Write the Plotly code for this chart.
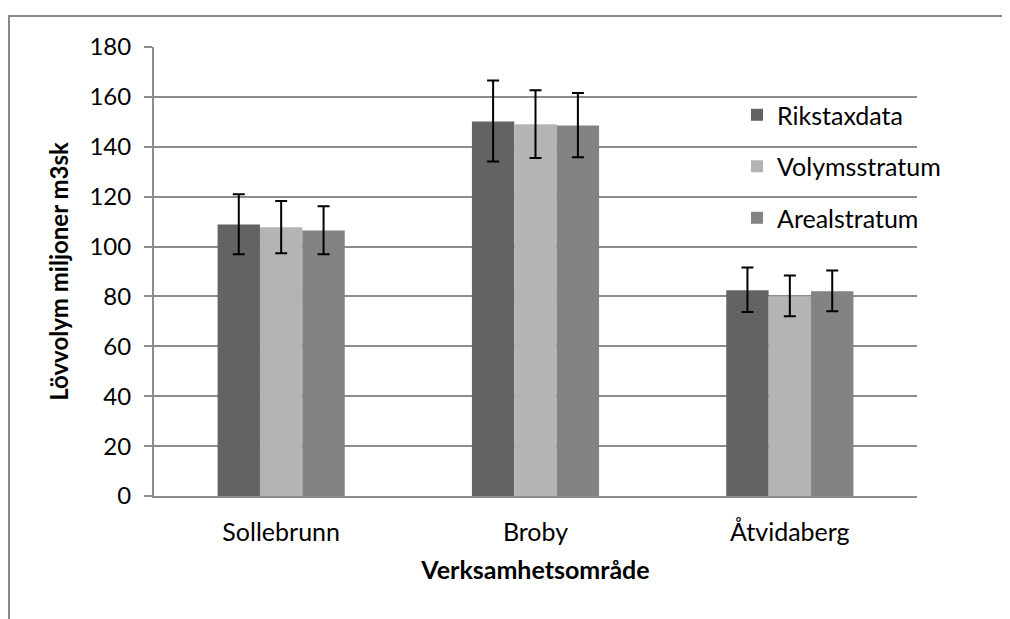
import plotly.graph_objects as go

categories = ["Sollebrunn", "Broby", "Åtvidaberg"]
series_names = ["Rikstaxdata", "Volymsstratum", "Arealstratum"]

rikstax = [108.8, 150.1, 82.5]
rikstax_plus = [12.2, 16.5, 9.1]
rikstax_minus = [11.9, 16.0, 8.7]

volym = [107.7, 149.0, 80.1]
volym_plus = [10.6, 13.7, 8.3]
volym_minus = [10.4, 13.5, 8.0]

areal = [106.4, 148.5, 82.1]
areal_plus = [9.8, 13.1, 8.3]
areal_minus = [9.5, 12.7, 8.0]

y_ticks = [0, 20, 40, 60, 80, 100, 120, 140, 160, 180]

colors = ["#636363", "#b4b4b4", "#838383"]
FONT = "Lato"

fig = go.Figure()
for name, vals, ep, em, col in zip(
    series_names,
    [rikstax, volym, areal],
    [rikstax_plus, volym_plus, areal_plus],
    [rikstax_minus, volym_minus, areal_minus],
    colors,
):
    fig.add_trace(go.Bar(
        name=name, x=categories, y=vals,
        marker=dict(color=col, line=dict(width=0)),
        legendgroup=name,
        error_y=dict(type="data", symmetric=False, array=ep, arrayminus=em,
                     color="black", thickness=2, width=6),
    ))

# page has an 8px body margin; figure coordinates = page coordinates - 8
OFF = 8
W, H = 1010 - OFF, 619 - OFF
L = 154 - OFF
T = 47 - OFF
R = W - (917 - OFF)
B = H - (495.7 - OFF)
pw, ph = W - L - R, H - T - B

def px(x):
    return (x - OFF - L) / pw

def py(y):
    return (H - B - (y - OFF)) / ph

fig.update_layout(
    width=W, height=H,
    margin=dict(l=L, r=R, t=T, b=B, autoexpand=False),
    paper_bgcolor="white", plot_bgcolor="white",
    barmode="group", bargap=0.5, bargroupgap=0,
    font=dict(family=FONT, size=25, color="black"),
    showlegend=True,
    legend=dict(x=px(737), y=py(92), xanchor="left", yanchor="top",
                bgcolor="rgba(0,0,0,0)", font=dict(size=25),
                tracegroupgap=16, itemwidth=30),
    xaxis=dict(
        title=dict(text="<b>Verksamhetsområde</b>", font=dict(size=25), standoff=16),
        showgrid=False, showline=True, linecolor="#8c8c8c", linewidth=2,
        ticks="", tickfont=dict(size=25), ticklabelstandoff=13,
    ),
    yaxis=dict(
        title=dict(text="<b>Lövvolym miljoner m3sk</b>", font=dict(size=24), standoff=14),
        range=[0, 180], tickvals=y_ticks,
        showgrid=True, gridcolor="#8c8c8c", gridwidth=1.5,
        showline=True, linecolor="#8c8c8c", linewidth=2,
        ticks="outside", ticklen=8, tickcolor="#8c8c8c", tickwidth=1.5,
        tickfont=dict(size=24), ticklabelstandoff=8,
        zeroline=False,
    ),
    shapes=[dict(type="rect", xref="paper", yref="paper",
                 x0=px(9), x1=px(1030), y0=py(640), y1=py(16),
                 line=dict(color="#888888", width=2), fillcolor="rgba(0,0,0,0)",
                 layer="below")],
)

fig.write_html("out.html")
